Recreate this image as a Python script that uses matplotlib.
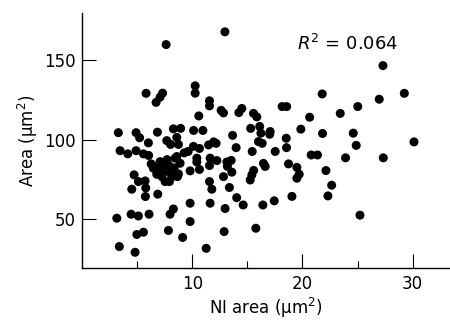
import matplotlib
matplotlib.use("Agg")
import matplotlib.pyplot as plt
from matplotlib.ticker import FixedLocator

# NI area (um^2) vs area (um^2)
ni_area = [7.61, 12.95, 27.31, 5.79, 7.29, 7.06, 6.70, 10.25, 10.25, 11.55,
           11.55, 10.58, 12.61, 12.82, 14.49, 14.22, 15.55, 15.85, 18.15, 18.56,
           21.79, 26.97, 29.25, 25.02, 20.65, 23.43, 19.85, 21.82, 24.61, 18.52,
           30.13, 16.11, 16.22, 17.06, 17.02, 15.29, 13.65, 10.11, 10.95, 8.27,
           8.93, 3.27, 4.88, 5.20, 6.00, 6.82, 7.67, 8.02, 8.58, 8.73,
           3.43, 4.13, 4.88, 5.55, 6.02, 9.25, 9.61, 10.09, 10.64, 11.47,
           11.93, 13.97, 15.43, 16.00, 16.34, 17.52, 18.55, 20.79, 21.36, 23.91,
           27.34, 24.88, 16.45, 16.61, 15.56, 15.40, 15.25, 18.73, 19.49, 19.70,
           19.49, 22.13, 22.65, 22.31, 19.04, 17.43, 16.40, 25.22, 15.76, 10.40,
           10.40, 11.61, 12.22, 13.13, 13.52, 9.79, 10.64, 11.55, 13.18, 13.58,
           12.82, 11.55, 11.76, 13.36, 14.02, 14.61, 12.97, 11.61, 9.79, 9.79,
           12.88, 11.25, 6.25, 6.45, 6.76, 7.06, 7.36, 7.82, 8.43, 8.88,
           7.52, 7.97, 8.34, 4.70, 5.09, 5.70, 5.76, 4.49, 5.73, 6.85,
           6.76, 7.22, 7.52, 7.91, 8.64, 8.73, 8.27, 7.97, 4.43, 5.09,
           6.06, 3.13, 4.95, 5.55, 7.82, 9.11, 3.36, 4.79, 8.58, 12.15,
           7.08, 8.15, 7.70]
area = [159.6, 167.6, 146.4, 129.0, 129.1, 126.6, 123.3, 133.7, 129.1, 124.3,
        121.1, 114.8, 118.3, 116.7, 119.5, 116.9, 116.4, 114.2, 120.7, 120.7,
        128.6, 125.3, 129.0, 120.7, 114.0, 116.4, 106.5, 103.8, 104.0, 100.8,
        98.5, 108.2, 104.0, 105.0, 103.3, 107.0, 102.6, 105.7, 105.7, 106.7,
        107.0, 104.3, 104.3, 101.1, 97.9, 104.6, 99.3, 96.9, 101.3, 96.9,
        93.0, 91.0, 93.0, 91.0, 90.0, 91.6, 92.5, 95.7, 94.4, 96.6,
        98.5, 94.9, 92.5, 98.7, 97.6, 92.5, 94.9, 90.3, 90.3, 88.5,
        88.5, 96.3, 85.0, 83.1, 80.6, 77.8, 74.6, 84.7, 82.5, 78.2,
        75.7, 80.5, 71.3, 64.6, 64.3, 61.5, 58.9, 52.5, 44.3, 88.3,
        85.9, 88.3, 86.8, 85.9, 86.9, 80.3, 81.2, 83.7, 83.1, 79.5,
        76.7, 73.6, 68.8, 69.9, 63.5, 58.9, 56.7, 60.0, 60.0, 48.5,
        42.2, 31.7, 84.7, 82.0, 83.0, 86.1, 83.0, 84.1, 88.3, 85.1,
        80.3, 79.0, 82.2, 77.8, 73.6, 74.0, 69.6, 68.8, 64.2, 65.7,
        78.2, 76.7, 73.6, 73.6, 76.7, 78.4, 56.4, 53.1, 53.1, 52.0,
        53.1, 50.6, 40.4, 41.8, 42.9, 38.5, 32.8, 29.2, 89.3, 97.6,
        81.2, 76.7, 87.4]

x_major = [10, 20, 30]
x_minor = [5, 15, 25]
y_major = [50, 100, 150]
r2_text = r"$R^2$ = 0.064"

fig = plt.figure(figsize=(4.5, 3.22), dpi=100)
ax = fig.add_axes([0.183, 0.168, 0.817, 0.792])

ax.scatter(ni_area, area, s=42, c="black", edgecolors="none")

ax.set_xlim(0, 33.4)
ax.set_ylim(19.4, 179.5)
ax.xaxis.set_major_locator(FixedLocator(x_major))
ax.xaxis.set_minor_locator(FixedLocator(x_minor))
ax.yaxis.set_major_locator(FixedLocator(y_major))

ax.spines["top"].set_visible(False)
ax.spines["right"].set_visible(False)
ax.spines["left"].set_linewidth(1.0)
ax.spines["bottom"].set_linewidth(1.0)

ax.tick_params(which="major", direction="in", length=10, width=0.8,
               labelsize=12, pad=5)
ax.tick_params(which="minor", direction="in", length=5, width=0.8)

ax.set_xlabel("NI area (μm$^2$)", fontsize=12, labelpad=2)
ax.set_ylabel("Area (μm$^2$)", fontsize=12, labelpad=3)

ax.text(19.5, 156.3, r2_text, fontsize=13, va="baseline", ha="left")

fig.savefig("out.png", dpi=100)
